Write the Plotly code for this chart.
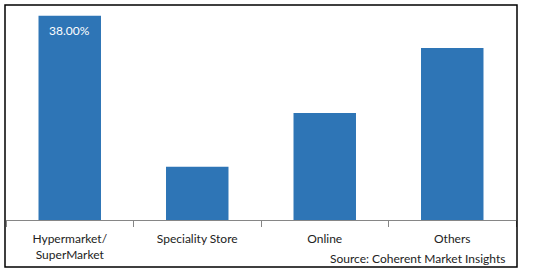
import plotly.graph_objects as go

categories = ["Hypermarket/<br>SuperMarket", "Speciality Store", "Online", "Others"]
values = [38.0, 9.9, 19.9, 32.0]
bar_labels = ["38.00%", "", "", ""]
source_text = "Source: Coherent Market Insights"

W, H = 538, 272
L, R, T, B = 6, 22, 5, 52
pw, ph = W - L - R, H - T - B

fig = go.Figure(go.Bar(
    x=categories, y=values,
    marker=dict(color="#2E75B6", line=dict(width=0)),
    width=0.49,
))

fig.add_annotation(
    x=categories[0], y=values[0], text=bar_labels[0], showarrow=False,
    yanchor="middle", yshift=-15, font=dict(color="white", size=12, family="Lato"),
)
fig.add_annotation(
    xref="paper", yref="paper", x=(507 - L) / pw, y=-(258 - (H - B)) / ph,
    xanchor="right", yanchor="middle", text=source_text, showarrow=False,
    font=dict(color="#222222", size=12, family="Lato"),
)
# outer border
fig.add_shape(
    type="rect", xref="paper", yref="paper",
    x0=-1 / pw, x1=1 + 1 / pw, y0=-(267 - (H - B)) / ph, y1=1.0,
    line=dict(color="black", width=1.5), fillcolor="rgba(0,0,0,0)", layer="above",
)

fig.update_layout(
    width=W, height=H, margin=dict(l=L, r=R, t=T, b=B),
    plot_bgcolor="white", paper_bgcolor="white", showlegend=False,
    font=dict(family="Lato", size=12, color="#222222"),
)
fig.update_xaxes(
    showline=True, linecolor="#868686", linewidth=1,
    ticks="outside", tickson="boundaries", ticklen=6, tickcolor="#868686",
    ticklabelstandoff=8,
    showgrid=False,
)
fig.update_yaxes(range=[0, 40], visible=False, showgrid=False)

fig.write_html("out.html")
